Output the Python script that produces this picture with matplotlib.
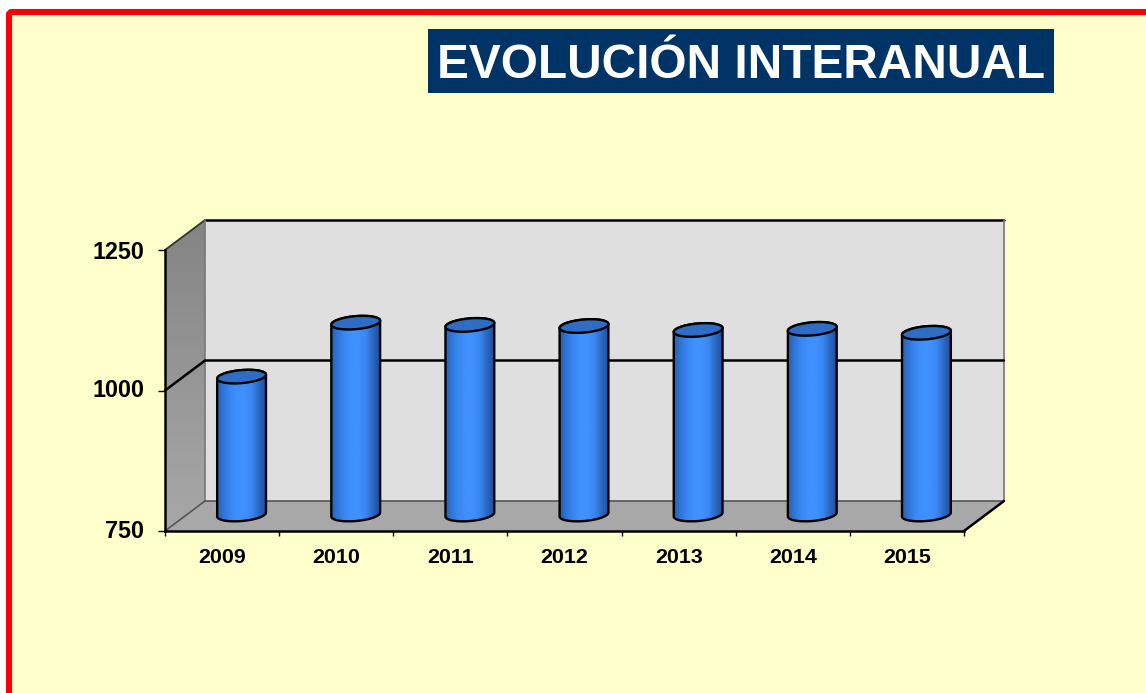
import matplotlib
matplotlib.use("Agg")
import matplotlib.pyplot as plt
import numpy as np
from matplotlib.patches import Polygon, Rectangle, FancyBboxPatch
from matplotlib.colors import LinearSegmentedColormap
from matplotlib.transforms import ScaledTranslation

# datos
years = ['2009', '2010', '2011', '2012', '2013', '2014', '2015']
values = [998, 1094, 1090, 1088, 1081, 1083, 1076]
y_ticks = [750, 1000, 1250]

W, H = 1146, 693
plt.rcParams['font.family'] = ['Liberation Sans', 'DejaVu Sans']

fig = plt.figure(figsize=(W / 100, H / 100), dpi=100, facecolor='white')

# fondo y marco rojo, en pixeles de la figura
bg = fig.add_axes([0, 0, 1, 1])
bg.set_xlim(0, W)
bg.set_ylim(H, 0)
bg.axis('off')
bg.add_patch(FancyBboxPatch((9, 12), W + 40, H + 40, boxstyle='round,pad=0,rounding_size=3',
                            fc='#FFFFCC', ec='#FF0000', lw=4.4))
bg.add_patch(Rectangle((428, 29), 626, 64, fc='#003366', ec='none'))
bg.text(741.5, 78, 'EVOLUCIÓN INTERANUAL', color='white', fontsize=34.4, fontweight='bold',
        ha='center', va='baseline')

# plano frontal del grafico
px_l, px_r, px_t, px_b = 165, 964, 250, 531
ax = fig.add_axes([px_l / W, 1 - px_b / H, (px_r - px_l) / W, (px_b - px_t) / H])
ax.patch.set_alpha(0)
ax.set_xlim(-0.5, 6.5)
ax.set_ylim(750, 1250)

# px a datos
sx = 7 / (px_r - px_l)
sy = 500 / (px_b - px_t)
dx, dy = 40 * sx, 30 * sy
x0, x1, y0, y1 = -0.5, 6.5, 750, 1250


def gradient(poly, colors, vertical=False, extent=None, z=1):
    cmap = LinearSegmentedColormap.from_list('g', colors)
    g = np.linspace(0, 1, 200)
    g = g.reshape(-1, 1) if vertical else g.reshape(1, -1)
    im = ax.imshow(g, cmap=cmap, extent=extent, aspect='auto', origin='lower', zorder=z)
    poly.set_transform(ax.transData)
    im.set_clip_path(poly)
    im.set_clip_box(fig.bbox)
    return im


# paredes y suelo
ax.add_patch(Polygon([(x0 + dx, y0 + dy), (x1 + dx, y0 + dy), (x1 + dx, y1 + dy), (x0 + dx, y1 + dy)],
                     fc='#DFDFDF', ec='none', clip_on=False, zorder=1))
ax.add_patch(Polygon([(x0, y0), (x1, y0), (x1 + dx, y0 + dy), (x0 + dx, y0 + dy)],
                     fc='#A8A8A8', ec='none', clip_on=False, zorder=1))
wall = Polygon([(x0, y0), (x0 + dx, y0 + dy), (x0 + dx, y1 + dy), (x0, y1)])
gradient(wall, ['#A8A8A8', '#848484'], vertical=True, extent=(x0, x0 + dx, y0, y1 + dy), z=1.2)
ax.set_xlim(x0, x1)
ax.set_ylim(y0, y1)

# lineas de las paredes
ln = dict(clip_on=False, zorder=2, solid_capstyle='round')
ax.plot([x0 + dx, x1 + dx], [y1 + dy, y1 + dy], color='black', lw=1.8, **ln)
ax.plot([x0, x0 + dx], [y1, y1 + dy], color='#333333', lw=1.3, **ln)
ax.plot([x0 + dx, x0 + dx], [y0 + dy, y1 + dy], color='#777777', lw=1.2, **ln)
ax.plot([x1 + dx, x1 + dx], [y0 + dy, y1 + dy], color='#777777', lw=1.2, **ln)
ax.plot([x0 + dx, x1 + dx], [y0 + dy, y0 + dy], color='#555555', lw=1.2, **ln)
ax.plot([x0, x0 + dx], [y0, y0 + dy], color='#555555', lw=1.2, **ln)
ax.plot([x1, x1 + dx], [y0, y0 + dy], color='black', lw=1.8, **ln)
ax.plot([x0, x0 + dx, x1 + dx], [1000, 1000 + dy, 1000 + dy], color='black', lw=1.8, **ln)

# cilindros
half_w, half_h, tilt = 24.5, 6.5, np.radians(5)
t = np.linspace(0, 2 * np.pi, 121)


def ell(tt, cx, cy):
    ex = half_w * np.cos(tt)
    ey = half_h * np.sin(tt)
    ux = ex * np.cos(tilt) - ey * np.sin(tilt)
    uy = ex * np.sin(tilt) + ey * np.cos(tilt)
    return cx + ux * sx, cy + uy * sy


body_cmap = ['#2560B8', '#3078DC', '#3A88F4', '#4090FF', '#4090FF', '#3A86F0', '#2C68C0', '#1F4E98']
for i, v in enumerate(values):
    cx = i + dx / 2 - 0.5 * sx
    base = y0 + dy / 2 + 1.5 * sy
    top = v + dy / 2
    lo = np.linspace(np.pi, 2 * np.pi, 60)
    bx, by = ell(lo, cx, base)
    tx, ty = ell(np.linspace(0, np.pi, 60), cx, top)
    pts = np.column_stack([np.r_[bx, tx], np.r_[by, ty]])
    body = Polygon(pts)
    gradient(body, body_cmap, extent=(pts[:, 0].min(), pts[:, 0].max(), y0, top + 20), z=3)
    ax.add_patch(Polygon(pts, fc='none', ec='black', lw=1.7, zorder=3.2, clip_on=False))
    ex, ey = ell(t, cx, top)
    ax.add_patch(Polygon(np.column_stack([ex, ey]), fc='#2F6CC4', ec='black', lw=1.7,
                         zorder=3.4, clip_on=False))
ax.set_xlim(x0, x1)
ax.set_ylim(y0, y1)

# ejes
for s in ['top', 'right']:
    ax.spines[s].set_visible(False)
for s in ['left', 'bottom']:
    ax.spines[s].set_linewidth(1.8)
    ax.spines[s].set_zorder(5)
ax.set_yticks(y_ticks)
ax.set_yticklabels(y_ticks, fontsize=16.8, fontweight='bold')
ax.set_xticks(range(len(years)))
ax.set_xticklabels(years, fontsize=15.4, fontweight='bold')
ax.set_xticks(np.arange(-0.5, 7), minor=True)
ax.tick_params(axis='x', which='major', length=0, pad=12)
ax.tick_params(axis='x', which='minor', length=3.5, width=1, direction='out')
ax.tick_params(axis='y', length=5, width=1, direction='out', pad=10)
# etiquetas de 750 y 1000 un poco mas arriba
up = ScaledTranslation(0, 1.5 / 72, fig.dpi_scale_trans)
for lab in ax.get_yticklabels()[:2]:
    lab.set_transform(lab.get_transform() + up)

fig.savefig('out.png', dpi=100)
